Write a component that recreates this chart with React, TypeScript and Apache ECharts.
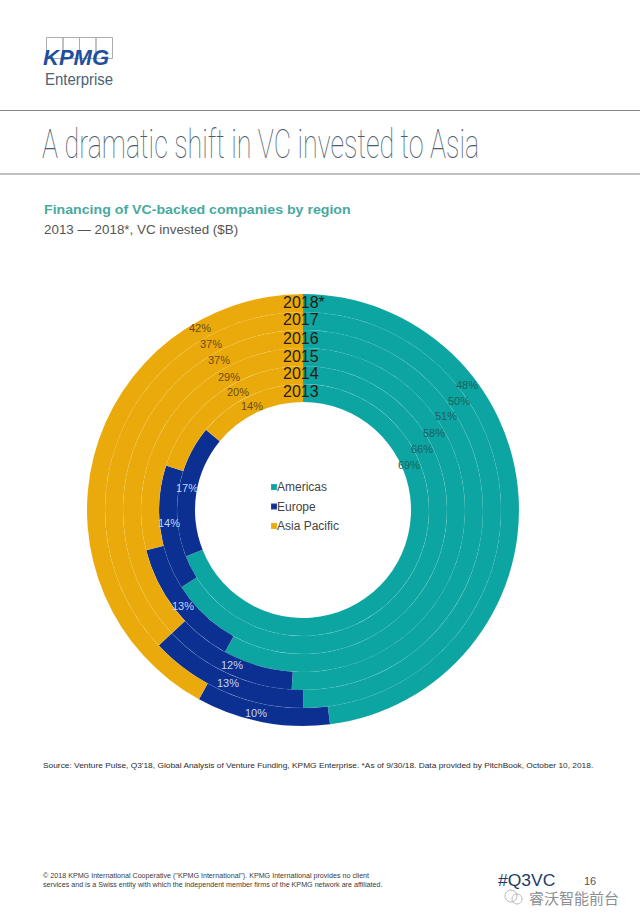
import React, { useEffect, useRef } from "react";
import * as echarts from "echarts";

const years = ["2013", "2014", "2015", "2016", "2017", "2018*"];
const regions = ["Americas", "Europe", "Asia Pacific"];
const americas = [69, 66, 58, 51, 50, 48];
const europe = [17, 14, 13, 12, 13, 10];
const asiaPacific = [14, 20, 29, 37, 37, 42];

const COLORS = ["#0ca5a1", "#0c2f92", "#ebaa0b"];
const LABEL_COLORS = ["#1d6163", "#c3d5f2", "#6a4c14"];
const CX = 303;
const CY = 510;
const R0 = 108;
const RING = 18;
const yearY = [391, 373.5, 356, 338, 319, 302];
// label anchor per ring, per region
const labelPos: number[][][] = [
  [[409, 465], [187, 488], [252, 406]],
  [[422, 449], [169, 523], [238, 392]],
  [[434, 433], [183, 606], [229, 377]],
  [[446, 416], [232, 665], [219, 360]],
  [[459, 401], [228, 683], [211, 344]],
  [[467, 385], [256, 713], [200, 328]],
];

const txt = (x: number, y: number, text: string, style: any, extra: any = {}) => ({
  type: "text",
  x,
  y,
  z: 100,
  silent: true,
  style: { text, fontFamily: "Liberation Sans", verticalAlign: "middle", ...style },
  ...extra,
});

export default function App() {
  const ref = useRef<HTMLDivElement>(null);
  useEffect(() => {
    document.body.style.margin = "0";
    const chart = echarts.init(ref.current!, null, { renderer: "svg" });
    const series = years.map((y, i) => ({
      type: "pie",
      name: y,
      radius: [R0 + RING * i, R0 + RING * (i + 1)],
      center: [CX, CY],
      startAngle: 90,
      clockwise: true,
      avoidLabelOverlap: false,
      silent: true,
      itemStyle: { borderColor: "rgba(255,255,255,0.1)", borderWidth: 0.5 },
      label: { show: true, position: "inside", formatter: "{c}%", fontSize: 11, fontFamily: "Liberation Sans" },
      labelLine: { show: false },
      labelLayout: (p: any) => ({
        x: labelPos[p.seriesIndex][p.dataIndex][0],
        y: labelPos[p.seriesIndex][p.dataIndex][1],
        align: "center",
        verticalAlign: "middle",
      }),
      data: [americas[i], europe[i], asiaPacific[i]].map((v, k) => ({
        name: regions[k],
        value: v,
        itemStyle: { color: COLORS[k] },
        label: { color: LABEL_COLORS[k] },
      })),
    }));
    const boxes = [0, 1, 2, 3].map((k) => ({
      type: "rect",
      silent: true,
      shape: { x: 46.5 + k * 16.5, y: 37.5, width: 16.5, height: 21 },
      style: { fill: "none", stroke: "#a9adb0", lineWidth: 1 },
    }));
    chart.setOption({
      animation: false,
      backgroundColor: "#fff",
      legend: {
        data: regions,
        orient: "vertical",
        left: 265,
        top: 476,
        itemWidth: 6,
        itemHeight: 6,
        itemGap: 7.5,
        icon: "rect",
        textStyle: { fontSize: 12, color: "#444", fontFamily: "Liberation Sans", padding: [0, 0, 0, -5] },
      },
      series,
      graphic: [
        ...boxes,
        txt(43, 57, "KPMG", { fontSize: 22, fontWeight: "bold", fontStyle: "italic", fill: "#1f4f9f" }),
        txt(45, 79, "Enterprise", { fontSize: 17, fill: "#4b6375" }, { scaleX: 0.88 }),
        { type: "line", silent: true, shape: { x1: 0, y1: 110.5, x2: 640, y2: 110.5 }, style: { stroke: "#7f8486", lineWidth: 1 } },
        { type: "line", silent: true, shape: { x1: 0, y1: 174, x2: 640, y2: 174 }, style: { stroke: "#7f8486", lineWidth: 1 } },
        txt(42, 144, "A dramatic shift in VC invested to Asia", { fontSize: 40, fill: "#4a5b6e", fontFamily: "Roboto", fontWeight: 100 }, { scaleX: 0.672 }),
        txt(44, 210, "Financing of VC-backed companies by region", { fontSize: 13, fontWeight: "bold", fill: "#48aa9f" }, { scaleX: 1.09 }),
        txt(44, 230, "2013 — 2018*, VC invested ($B)", { fontSize: 13, fill: "#555" }, { scaleX: 1.03 }),
        ...years.map((y, i) => txt(283, yearY[i], y, { fontSize: 16, fill: "#2a1a10" })),
        txt(43, 766, "Source: Venture Pulse, Q3'18, Global Analysis of Venture Funding, KPMG Enterprise. *As of 9/30/18. Data provided by PitchBook, October 10, 2018.", { fontSize: 8, fill: "#2b2b2b" }, { scaleX: 1.045 }),
        txt(43, 876, "© 2018 KPMG International Cooperative (\"KPMG International\"). KPMG International provides no client", { fontSize: 6.5, fill: "#3a3a3a" }, { scaleX: 1.1 }),
        txt(43, 885, "services and is a Swiss entity with which the independent member firms of the KPMG network are affiliated.", { fontSize: 6.5, fill: "#3a3a3a" }, { scaleX: 1.1 }),
        txt(498, 880, "#Q3VC", { fontSize: 17, fill: "#1e3a6b" }, { scaleX: 1.03 }),
        txt(584, 881, "16", { fontSize: 11, fill: "#555" }),
        { type: "circle", silent: true, shape: { cx: 511, cy: 896, r: 6 }, style: { fill: "none", stroke: "#b5b8ba", lineWidth: 1 } },
        { type: "circle", silent: true, shape: { cx: 517, cy: 899, r: 5 }, style: { fill: "none", stroke: "#b5b8ba", lineWidth: 1 } },
        txt(529, 897, "睿沃智能前台", { fontSize: 15, fill: "#8c8f91", fontFamily: "Noto Sans CJK SC" }),
      ],
    });
    return () => chart.dispose();
  }, []);
  return <div ref={ref} style={{ width: 640, height: 923, position: "absolute", left: 0, top: 0 }} />;
}
